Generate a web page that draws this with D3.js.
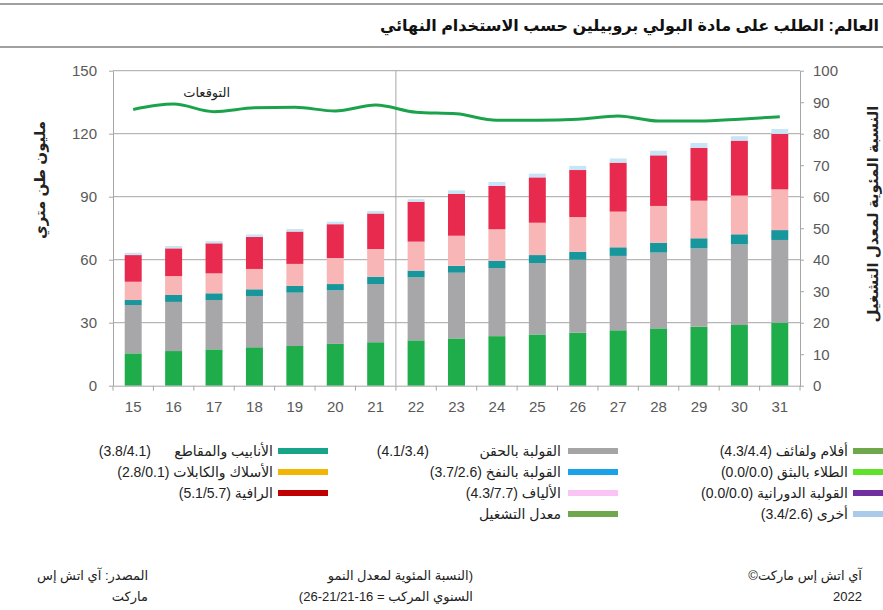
<!DOCTYPE html>
<html>
<head>
<meta charset="utf-8">
<script src="https://cdn.jsdelivr.net/npm/d3@7"></script>
<style>
  body { margin: 0; background: #fff; }
  svg { display: block; }
  .ar { font-family: "Liberation Sans", "DejaVu Sans", sans-serif; direction: rtl; white-space: pre; }
  .tick text { font-family: "Liberation Sans", Arial, sans-serif; font-size: 15px; fill: #595959; }
</style>
</head>
<body>
<div id="chart"></div>
<script>
// data
const years = ["15", "16", "17", "18", "19", "20", "21", "22", "23", "24", "25", "26", "27", "28", "29", "30", "31"];
const films = [15.4, 16.5, 17.3, 18.3, 18.9, 19.9, 20.7, 21.6, 22.5, 23.6, 24.4, 25.2, 26.4, 27.3, 28.1, 28.9, 30.0];
const injection = [23.0, 23.4, 23.5, 24.4, 25.4, 25.5, 27.7, 30.0, 31.3, 32.4, 34.0, 34.8, 35.4, 36.1, 37.3, 38.4, 39.4];
const pipes = [2.4, 3.3, 3.2, 3.2, 3.2, 3.0, 3.5, 3.2, 3.3, 3.5, 3.8, 3.8, 4.1, 4.7, 4.8, 4.8, 4.7];
const fibres = [8.7, 9.0, 9.5, 9.7, 10.5, 12.4, 13.2, 13.8, 14.3, 15.0, 15.4, 16.5, 17.0, 17.5, 17.9, 18.4, 19.4];
const raffia = [12.7, 13.2, 14.3, 15.2, 15.4, 16.1, 16.9, 19.0, 19.9, 20.7, 21.6, 22.4, 23.3, 24.1, 25.2, 26.2, 26.4];
const others = [1.1, 1.1, 1.0, 1.2, 1.2, 1.2, 1.2, 1.2, 1.7, 1.8, 1.8, 2.0, 2.0, 2.2, 2.3, 2.1, 2.3];
const operatingRate = [87.7, 89.4, 87.0, 88.2, 88.4, 87.2, 89.1, 86.8, 86.3, 84.3, 84.3, 84.6, 85.6, 84.0, 84.0, 84.6, 85.4];

const seriesKeys = ["films", "injection", "pipes", "fibres", "raffia", "others"];
const seriesColors = ["#1fad4c", "#a7a7aa", "#17969c", "#f8b6b7", "#e82a4e", "#c6e5f6"];
const leftTicks = [0, 30, 60, 90, 120, 150];
const rightTicks = [0, 10, 20, 30, 40, 50, 60, 70, 80, 90, 100];

const legendLabels = [
  ["أفلام ولفائف (4.3/4.4)", "الطلاء بالبثق (0.0/0.0)", "القولبة الدورانية (0.0/0.0)", "أخرى (3.4/2.6)"],
  ["القولبة بالحقن             (4.1/3.4)", "القولبة بالنفخ (3.7/2.6)", "الألياف (4.3/7.7)", "معدل التشغيل"],
  ["الأنابيب والمقاطع      (3.8/4.1)", "الأسلاك والكابلات (2.8/0.1)", "الرافية (5.1/5.7)"]
];
const legendColors = [
  ["#6fa84c", "#5fe22a", "#7030a0", "#a9cbe9"],
  ["#a5a5a5", "#1aa3e8", "#f9c3f3", "#6fa84c"],
  ["#16a589", "#f2b705", "#c00000"]
];

const title = "العالم: الطلب على مادة البولي بروبيلين حسب الاستخدام النهائي";
const leftLabel = "مليون طن متري";
const rightLabel = "النسبة المئوية لمعدل التشغيل";
const forecastLabel = "التوقعات";
const footRight = ["آي اتش إس ماركت©", "2022"];
const footMid = ["(النسبة المئوية لمعدل النمو", "السنوي المركب = 16-21/21-26)"];
const footLeft = ["المصدر: آي اتش إس", "ماركت"];

// dimensions
const W = 883;
const H = 610;
const M = { top: 70.7, right: 83, bottom: 224.3, left: 113 };
const innerW = W - M.left - M.right;
const innerH = H - M.top - M.bottom;

const data = years.map((y, i) => ({
  year: y,
  films: films[i],
  injection: injection[i],
  pipes: pipes[i],
  fibres: fibres[i],
  raffia: raffia[i],
  others: others[i],
  rate: operatingRate[i]
}));

const stacked = d3.stack().keys(seriesKeys)(data);

// scales
const x = d3.scaleBand().domain(years).range([0, innerW]).paddingInner(0.58).paddingOuter(0.29);
const y = d3.scaleLinear().domain([0, 150]).range([innerH, 0]);
const yR = d3.scaleLinear().domain([0, 100]).range([innerH, 0]);

const $svg = d3.select("#chart").append("svg").attr("width", W).attr("height", H);
$svg.append("rect").attr("width", W).attr("height", H).attr("fill", "#fff");

// header
$svg.append("line").attr("x1", 0).attr("x2", W).attr("y1", 4).attr("y2", 4)
  .attr("stroke", "#a0a0a0").attr("stroke-width", 2);
$svg.append("line").attr("x1", 0).attr("x2", W).attr("y1", 47).attr("y2", 47)
  .attr("stroke", "#a0a0a0").attr("stroke-width", 2);
$svg.append("text").attr("class", "ar")
  .attr("x", 879).attr("y", 31)
  .attr("text-anchor", "start")
  .attr("font-size", 16).attr("font-weight", "bold").attr("fill", "#111")
  .text(title);

const $vis = $svg.append("g").attr("transform", `translate(${M.left},${M.top})`);

// grid
$vis.append("g").selectAll("line").data(leftTicks.filter(d => d > 0)).join("line")
  .attr("x1", 0).attr("x2", innerW)
  .attr("y1", d => y(d)).attr("y2", d => y(d))
  .attr("stroke", "#a6a6a6").attr("stroke-width", 1);

// forecast separator
const sepX = (x("21") + x.bandwidth() + x("22")) / 2;
$vis.append("line").attr("x1", sepX).attr("x2", sepX).attr("y1", 0).attr("y2", innerH)
  .attr("stroke", "#a6a6a6").attr("stroke-width", 1);

// bars
$vis.append("g").selectAll("g").data(stacked).join("g")
  .attr("fill", (d, i) => seriesColors[i])
  .selectAll("rect").data(d => d).join("rect")
  .attr("x", d => x(d.data.year))
  .attr("width", x.bandwidth())
  .attr("y", d => y(d[1]))
  .attr("height", d => y(d[0]) - y(d[1]));

// operating rate line
const line = d3.line()
  .x(d => x(d.year) + x.bandwidth() / 2)
  .y(d => yR(d.rate))
  .curve(d3.curveMonotoneX);
$vis.append("path").datum(data).attr("d", line)
  .attr("fill", "none").attr("stroke", "#1ba34b").attr("stroke-width", 3);

$vis.append("text").attr("class", "ar")
  .attr("x", x("16") + x.bandwidth() / 2 + 33).attr("y", 26)
  .attr("text-anchor", "middle").attr("font-size", 13).attr("fill", "#222")
  .text(forecastLabel);

// axes
const $xAxis = $vis.append("g").attr("transform", `translate(0,${innerH})`)
  .call(d3.axisBottom(x).tickSize(0).tickPadding(16));
$xAxis.select(".domain").attr("stroke", "#a6a6a6");
$xAxis.selectAll(".tick").append("line")
  .attr("x1", -x.step() / 2).attr("x2", -x.step() / 2)
  .attr("y1", 0).attr("y2", 5).attr("stroke", "#a6a6a6");
$xAxis.append("line").attr("x1", innerW).attr("x2", innerW).attr("y1", 0).attr("y2", 5).attr("stroke", "#a6a6a6");

const $yAxis = $vis.append("g")
  .call(d3.axisLeft(y).tickValues(leftTicks).tickSize(4).tickPadding(12).tickSizeOuter(0));
$yAxis.selectAll("line, .domain").attr("stroke", "#a6a6a6");

const $yRAxis = $vis.append("g").attr("transform", `translate(${innerW},0)`)
  .call(d3.axisRight(yR).tickValues(rightTicks).tickSize(4).tickPadding(9).tickSizeOuter(0));
$yRAxis.selectAll("line, .domain").attr("stroke", "#a6a6a6");

// axis titles
$svg.append("text").attr("class", "ar")
  .attr("transform", "translate(45,180) rotate(-90)")
  .attr("text-anchor", "middle").attr("font-size", 15).attr("font-weight", "bold").attr("fill", "#222")
  .text(leftLabel);
$svg.append("text").attr("class", "ar")
  .attr("transform", "translate(878,214) rotate(-90)")
  .attr("text-anchor", "middle").attr("font-size", 15).attr("font-weight", "bold").attr("fill", "#222")
  .text(rightLabel);

// legend
const colRight = [848, 561, 273];
const swatchX = [853, 568, 278];
const rowY = [456, 477, 498, 519];
legendLabels.forEach((col, c) => {
  const $col = $svg.append("g");
  col.forEach((label, r) => {
    $col.append("rect")
      .attr("x", swatchX[c]).attr("y", rowY[r] - 8)
      .attr("width", 50).attr("height", 6)
      .attr("fill", legendColors[c][r]);
    $col.append("text").attr("class", "ar")
      .attr("x", colRight[c]).attr("y", rowY[r])
      .attr("text-anchor", "start").attr("font-size", 14).attr("fill", "#222")
      .text(label);
  });
});

// footer
function footer(lines, xPos) {
  lines.forEach((t, i) => {
    $svg.append("text").attr("class", "ar")
      .attr("x", xPos).attr("y", 580 + i * 21)
      .attr("text-anchor", "start").attr("font-size", 13).attr("fill", "#222")
      .text(t);
  });
}
footer(footRight, 862);
footer(footMid, 473);
footer(footLeft, 148);
</script>
</body>
</html>
